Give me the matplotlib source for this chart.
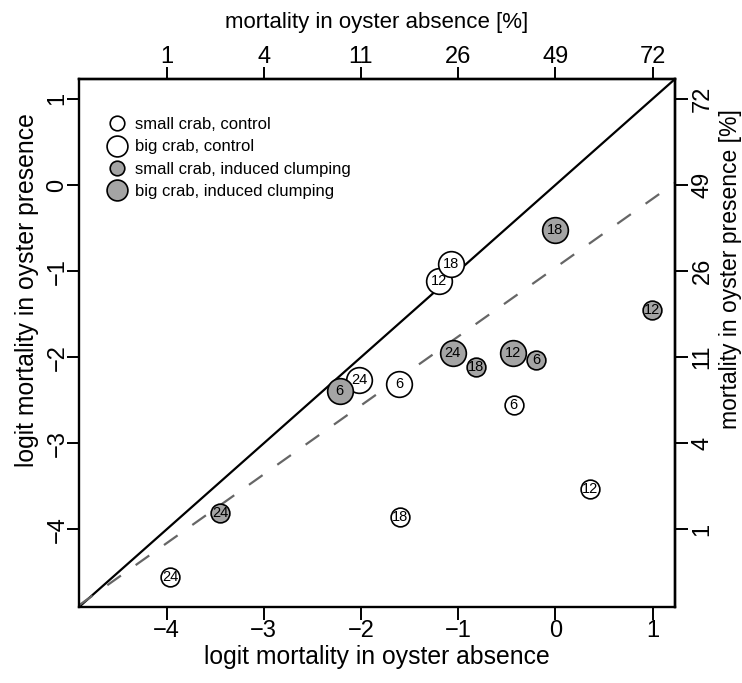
import matplotlib
matplotlib.use('Agg')
import matplotlib.pyplot as plt
from matplotlib.lines import Line2D

plt.rcParams['font.family'] = ['Liberation Sans', 'DejaVu Sans']
plt.rcParams['lines.scale_dashes'] = False

# ---------------- data ----------------
small_ctrl_x = [-0.43, 0.36, -1.60, -3.96]
small_ctrl_y = [-2.555, -3.53, -3.85, -4.555]
small_ctrl_lab = ['6', '12', '18', '24']

big_ctrl_x = [-1.61, -1.20, -1.07, -2.02]
big_ctrl_y = [-2.31, -1.11, -0.92, -2.26]
big_ctrl_lab = ['6', '12', '18', '24']

small_clump_x = [-0.20, 0.99, -0.82, -3.45]
small_clump_y = [-2.03, -1.45, -2.115, -3.81]
small_clump_lab = ['6', '12', '18', '24']

big_clump_x = [-2.22, -0.434, 0.00, -1.055]
big_clump_y = [-2.39, -1.95, -0.52, -1.95]
big_clump_lab = ['6', '12', '18', '24']

legend_labels = ['small crab, control', 'big crab, control',
                 'small crab, induced clumping', 'big crab, induced clumping']

x_ticks = [-4, -3, -2, -1, 0, 1]
y_ticks = [-4, -3, -2, -1, 0, 1]
top_tick_labels = ['1', '4', '11', '26', '49', '72']
right_tick_labels = ['1', '4', '11', '26', '49', '72']
axis_limits = (-4.9, 1.23)

fit_intercept = -0.96
fit_slope = 0.80

# ---------------- figure ----------------
W, H = 742, 683
fig = plt.figure(figsize=(W / 100, H / 100), dpi=100)
ax = fig.add_axes([79 / W, 1 - 607 / H, (675 - 79) / W, (607 - 79) / H])
ax.set_xlim(axis_limits)
ax.set_ylim(axis_limits)

GRAY = '#a4a4a4'
FS_TICK = 17

ax.axline((0, 0), slope=1, color='black', lw=1.6, zorder=2)
ax.axline((0, fit_intercept), slope=fit_slope, color='#666666', lw=1.6,
          dashes=(12, 13), zorder=2)

groups = [
    (small_ctrl_x, small_ctrl_y, small_ctrl_lab, 'white', 13.5),
    (big_ctrl_x, big_ctrl_y, big_ctrl_lab, 'white', 18.5),
    (small_clump_x, small_clump_y, small_clump_lab, GRAY, 13.5),
    (big_clump_x, big_clump_y, big_clump_lab, GRAY, 18.5),
]
z = 3
for xs, ys, labs, fc, ms in groups:
    for x, y, lab in zip(xs, ys, labs):
        ax.plot([x], [y], 'o', ms=ms, mfc=fc, mec='black', mew=1.2, zorder=z)
        ax.text(x, y, lab, ha='center', va='center', fontsize=10.5, zorder=z + 0.5)
        z += 1

handles = [
    Line2D([], [], ls='none', marker='o', ms=10.5, mfc='white', mec='black', mew=1.2),
    Line2D([], [], ls='none', marker='o', ms=15, mfc='white', mec='black', mew=1.2),
    Line2D([], [], ls='none', marker='o', ms=10.5, mfc=GRAY, mec='black', mew=1.2),
    Line2D([], [], ls='none', marker='o', ms=15, mfc=GRAY, mec='black', mew=1.2),
]
ax.legend(handles, legend_labels, loc='upper left', bbox_to_anchor=(0.043, 0.928),
          frameon=False, fontsize=12, borderpad=0, borderaxespad=0,
          handlelength=1.5, handletextpad=0.33, labelspacing=0.44)

for sp in ax.spines.values():
    sp.set_linewidth(1.7)

ax.set_xticks(x_ticks)
ax.set_yticks(y_ticks)
ax.set_yticklabels([str(t).replace('-', '\u2212') for t in y_ticks], rotation=90, va='center')
ax.tick_params(length=9, width=1.4, labelsize=FS_TICK)
ax.tick_params(axis='x', pad=0.6)
ax.tick_params(axis='y', pad=-1.5)
ax.set_xlabel('logit mortality in oyster absence', fontsize=17.8, labelpad=1.8)
ax.set_ylabel('logit mortality in oyster presence', fontsize=17.8, labelpad=5.5)
ax.yaxis.label.set_y(0.60)

secx = ax.secondary_xaxis('top')
secx.set_xticks(x_ticks, labels=top_tick_labels)
secx.tick_params(length=9, width=1.4, labelsize=FS_TICK, pad=-0.9)
secx.set_xlabel('mortality in oyster absence [%]', fontsize=16, labelpad=13)
secx.spines['top'].set_linewidth(1.7)

secy = ax.secondary_yaxis('right')
secy.set_yticks(y_ticks, labels=right_tick_labels)
secy.tick_params(length=9, width=1.4, labelsize=FS_TICK, pad=3)
for lbl in secy.get_yticklabels():
    lbl.set_rotation(90)
    lbl.set_va('center')
secy.set_ylabel('mortality in oyster presence [%]', fontsize=16.5, labelpad=3.5)
secy.yaxis.label.set_y(0.64)
secy.spines['right'].set_linewidth(1.7)

fig.savefig('out.png', dpi=100)
